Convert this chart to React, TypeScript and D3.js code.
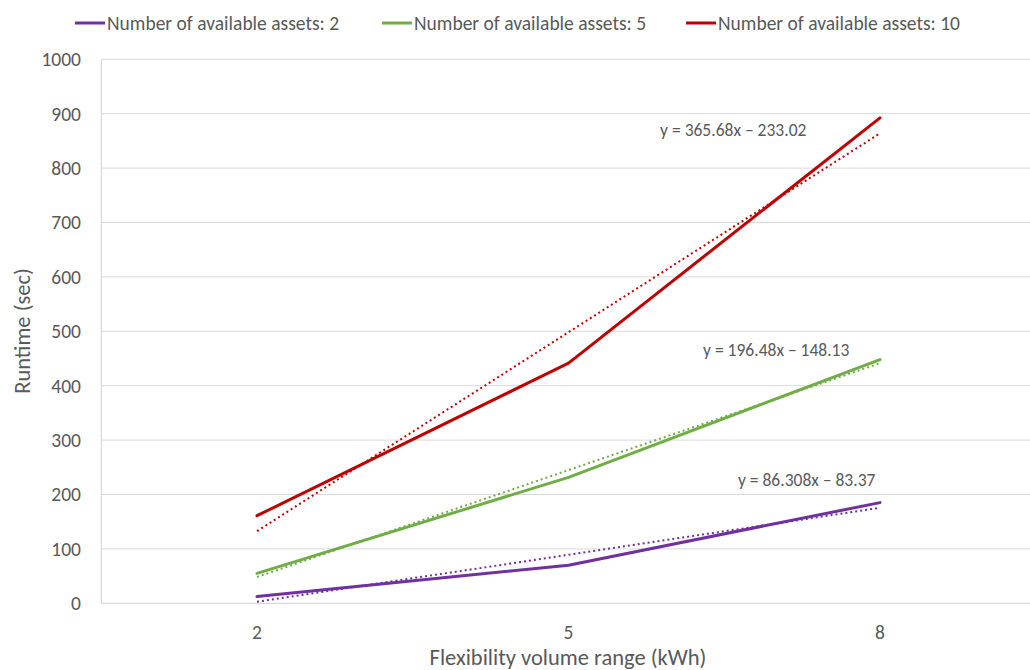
import React from "react";
import * as d3 from "d3";

const categories = ["2", "5", "8"];
const yTicks = [0, 100, 200, 300, 400, 500, 600, 700, 800, 900, 1000];

const assets2 = [12.5, 70.1, 185.1];
const assets5 = [55.0, 231.5, 448.0];
const assets10 = [161.0, 441.6, 892.4];

const seriesNames = [
  "Number of available assets: 2",
  "Number of available assets: 5",
  "Number of available assets: 10",
];
const seriesColors = ["#7030A0", "#70AD47", "#C00000"];

// linear trend coefficients (x = category index 1..n)
const trendSlopes = [86.308, 196.48, 365.68];
const trendIntercepts = [-83.37, -148.13, -233.02];
const trendLabels = ["y = 86.308x – 83.37", "y = 196.48x – 148.13", "y = 365.68x – 233.02"];

const FONT = "Carlito, Lato, 'Open Sans', sans-serif";
const TEXT = "#595959";

export default function App() {
  const width = 1030;
  const height = 670;
  const left = 101.25;
  const right = 1035.75;
  const top = 59.3;
  const bottom = 603.3;

  const allSeries = [assets2, assets5, assets10];

  const x = d3.scaleBand<string>().domain(categories).range([left, right]).padding(0);
  const cx = (c: string) => (x(c) as number) + x.bandwidth() / 2;
  const y = d3.scaleLinear().domain([0, 1000]).range([bottom, top]);

  const line = d3
    .line<number>()
    .x((_, i) => cx(categories[i]))
    .y((d) => y(d));

  const trendPts = (k: number) => {
    const n = categories.length;
    return [1, n].map((idx) => ({
      x: cx(categories[idx - 1]),
      y: y(trendSlopes[k] * idx + trendIntercepts[k]),
    }));
  };

  // label anchors in data coordinates (category index, value)
  const labelPos = [
    { xi: 2.544, v: 226.7 },
    { xi: 2.432, v: 465.6 },
    { xi: 2.294, v: 870 },
  ];
  const idxToPx = (xi: number) => cx(categories[0]) + (xi - 1) * x.step();

  const legendX = [75, 382, 686];

  return (
    <svg
      width={width}
      height={height}
      style={{ position: "absolute", left: 0, top: 0, background: "#fff" }}
      fontFamily={FONT}
    >
      {/* gridlines */}
      {yTicks.map((t) => (
        <line
          key={t}
          x1={left}
          x2={right}
          y1={y(t)}
          y2={y(t)}
          stroke={t === 0 ? "#D0D0D0" : "#D9D9D9"}
          strokeWidth={1}
        />
      ))}
      <line x1={left} x2={left} y1={top} y2={bottom} stroke="#D0D0D0" strokeWidth={1} />

      {/* y tick labels */}
      {yTicks.map((t) => (
        <text key={t} x={81} y={y(t)} dy="0.35em" textAnchor="end" fontSize={19.5} fill={TEXT}>
          {t}
        </text>
      ))}

      {/* x tick labels */}
      {categories.map((c) => (
        <text key={c} x={cx(c)} y={632} dy="0.35em" textAnchor="middle" fontSize={19.5} fill={TEXT}>
          {c}
        </text>
      ))}

      {/* axis titles */}
      <text x={568} y={657} dy="0.35em" textAnchor="middle" fontSize={22.5} fill={TEXT}>
        Flexibility volume range (kWh)
      </text>
      <text
        transform={`translate(22,331) rotate(-90)`}
        dy="0.35em"
        textAnchor="middle"
        fontSize={22.5}
        fill={TEXT}
      >
        Runtime (sec)
      </text>

      {/* trendlines */}
      {allSeries.map((_, k) => {
        const p = trendPts(k);
        return (
          <line
            key={"t" + k}
            x1={p[0].x}
            y1={p[0].y}
            x2={p[1].x}
            y2={p[1].y}
            stroke={seriesColors[k]}
            strokeWidth={2}
            strokeDasharray="2,3"
          />
        );
      })}

      {/* series lines */}
      {allSeries.map((s, k) => (
        <path
          key={"s" + k}
          d={line(s) as string}
          fill="none"
          stroke={seriesColors[k]}
          strokeWidth={3}
          strokeLinejoin="round"
          strokeLinecap="round"
        />
      ))}

      {/* trend equations */}
      {trendLabels.map((l, k) => (
        <text
          key={"l" + k}
          x={idxToPx(labelPos[k].xi)}
          y={y(labelPos[k].v)}
          dy="0.35em"
          fontSize={17.5}
          fill={TEXT}
        >
          {l}
        </text>
      ))}

      {/* legend */}
      {seriesNames.map((n, k) => (
        <g key={"g" + k}>
          <line
            x1={legendX[k]}
            x2={legendX[k] + 30}
            y1={23}
            y2={23}
            stroke={seriesColors[k]}
            strokeWidth={3}
          />
          <text x={legendX[k] + 32} y={23} dy="0.35em" fontSize={19.5} fill={TEXT}>
            {n}
          </text>
        </g>
      ))}
    </svg>
  );
}
